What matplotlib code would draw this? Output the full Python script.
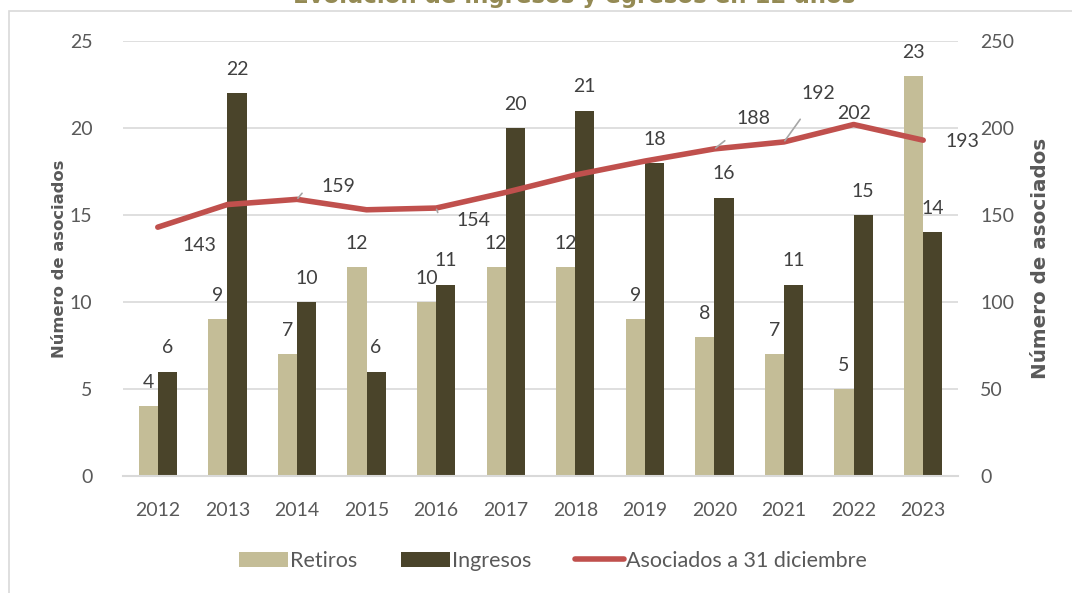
import matplotlib
matplotlib.use("Agg")
import matplotlib.pyplot as plt
from matplotlib.patches import Rectangle
import numpy as np

plt.rcParams['font.family'] = ['Lato', 'DejaVu Sans']
negrita = ['DejaVu Sans']

# datos
anios = ['2012', '2013', '2014', '2015', '2016', '2017', '2018', '2019', '2020', '2021', '2022', '2023']
retiros = [4, 9, 7, 12, 10, 12, 12, 9, 8, 7, 5, 23]
ingresos = [6, 22, 10, 6, 11, 20, 21, 18, 16, 11, 15, 14]
asociados = [143, 156, 159, 153, 154, 163, 173, 181, 188, 192, 202, 193]
# solo algunos puntos de la linea llevan etiqueta
etiquetas_linea = [0, 2, 4, 8, 9, 10, 11]

c_ret = '#C4BD97'
c_ing = '#4A442A'
c_lin = '#C0504D'
c_txt = '#595959'
c_lab = '#404040'
c_grid = '#D9D9D9'

fig = plt.figure(figsize=(10.72, 5.93), dpi=100)
fig.patches.append(Rectangle((9 / 1072, -0.1), 1.2, 1 - 11 / 593 + 0.1, transform=fig.transFigure,
                             fill=False, edgecolor='#D9D9D9', linewidth=1.2))

ax = fig.add_axes([123 / 1072, 1 - 476 / 593, 835 / 1072, 435 / 593])
ax2 = ax.twinx()

x = np.arange(len(anios))
w = 0.275
ax.bar(x - w / 2, retiros, w, color=c_ret, label='Retiros', zorder=2)
ax.bar(x + w / 2, ingresos, w, color=c_ing, label='Ingresos', zorder=2)

ax.set_xlim(-0.5, len(anios) - 0.5)
ax.set_ylim(0, 25)
ax.set_yticks(range(0, 26, 5))
ax.set_xticks(x)
ax.set_xticklabels(anios)
ax.grid(axis='y', color=c_grid, linewidth=1.2, zorder=0)
ax.set_axisbelow(True)
for s in ['top', 'right', 'left']:
    ax.spines[s].set_visible(False)
ax.spines['bottom'].set_color(c_grid)
ax.spines['bottom'].set_linewidth(1.5)
ax.tick_params(length=0, labelsize=14, colors=c_txt)
ax.tick_params(axis='x', pad=19)
ax.tick_params(axis='y', pad=22)
ax.set_ylabel('Número de asociados', fontsize=11.8, fontweight='bold', color=c_txt, labelpad=2,
              family=negrita)

for i in range(len(anios)):
    ax.annotate(str(retiros[i]), (x[i] - w / 2, retiros[i]), xytext=(0, 11), textcoords='offset points',
                ha='center', va='bottom', fontsize=14, color=c_lab)
    ax.annotate(str(ingresos[i]), (x[i] + w / 2, ingresos[i]), xytext=(0, 11), textcoords='offset points',
                ha='center', va='bottom', fontsize=14, color=c_lab)

ax2.plot(x, asociados, color=c_lin, linewidth=4, solid_capstyle='round', label='Asociados a 31 diciembre', zorder=3)
ax2.set_ylim(0, 250)
ax2.set_yticks(range(0, 251, 50))
for s in ['top', 'right', 'left', 'bottom']:
    ax2.spines[s].set_visible(False)
ax2.tick_params(length=0, labelsize=14, colors=c_txt, pad=16)
ax2.set_ylabel('Número de asociados', fontsize=14.3, fontweight='bold', color=c_txt, labelpad=12,
               family=negrita)

# desplazamientos de las etiquetas de la linea (puntos) y tipo de guia
desp = {0: (30, -13, None), 2: (30, 9, 'angle,angleA=0,angleB=50,rad=0'),
        4: (27, -9, 'angle,angleA=0,angleB=-70,rad=0'), 8: (28, 22, 'arc3'),
        9: (25, 35, 'arc3'), 10: (0, 8, None), 11: (28, -1, None)}
for i in etiquetas_linea:
    dx, dy, guia = desp[i]
    if guia:
        ax2.annotate(str(asociados[i]), (x[i], asociados[i]), xytext=(dx, dy), textcoords='offset points',
                     ha='center', va='center', fontsize=14, color=c_lab,
                     arrowprops=dict(arrowstyle='-', color='#A6A6A6', lw=1.2, shrinkA=13, shrinkB=1,
                                     connectionstyle=guia))
    else:
        ax2.annotate(str(asociados[i]), (x[i], asociados[i]), xytext=(dx, dy), textcoords='offset points',
                     ha='center', va='center', fontsize=14, color=c_lab)

fig.text(574 / 1072, 1 - 3 / 593, 'Evolución de ingresos y egresos en 12 años', ha='center', va='baseline',
         fontsize=16.5, fontweight='bold', color='#948A54', family=negrita)

h1, l1 = ax.get_legend_handles_labels()
h2, l2 = ax2.get_legend_handles_labels()
fig.legend(h1 + h2, l1 + l2, loc='center', bbox_to_anchor=(553 / 1072, 1 - 561 / 593), ncol=3,
           frameon=False, fontsize=15.5, labelcolor=c_txt, handlelength=2.3, handleheight=0.75,
           handletextpad=0.1, columnspacing=2.0)

fig.savefig('out.png', dpi=100, facecolor='white')
